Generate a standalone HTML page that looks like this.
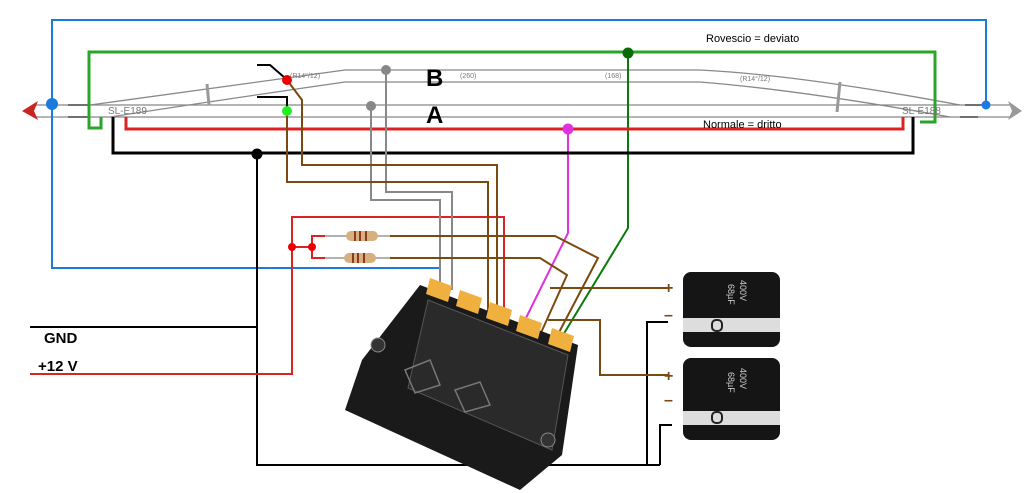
<!DOCTYPE html>
<html><head><style>
html,body{margin:0;padding:0;background:#fff;width:1026px;height:493px;overflow:hidden}
svg{display:block;font-family:"Liberation Sans",sans-serif}
</style></head><body>
<svg width="1026" height="493" viewBox="0 0 1026 493" xmlns="http://www.w3.org/2000/svg">
<g fill="none">
<g stroke="#888" stroke-width="1.3">
<line x1="35" y1="105" x2="1012" y2="105"/>
<line x1="35" y1="117" x2="1012" y2="117"/>
<path d="M90 105 Q200 90 345 70 L700 70 Q800 75 960 105"/>
<path d="M110 117 Q220 100 345 82 L700 82 Q800 90 950 117"/>
</g>
<g stroke="#999" stroke-width="3"><line x1="207" y1="84" x2="209" y2="105"/><line x1="840" y1="82" x2="837" y2="112"/></g>
<line x1="68" y1="105" x2="90" y2="105" stroke="#000"/><line x1="68" y1="117" x2="90" y2="117" stroke="#000"/>
<line x1="965" y1="105" x2="985" y2="105" stroke="#000"/><line x1="960" y1="117" x2="978" y2="117" stroke="#000"/>
<path d="M52 104 V20 H986 V105" stroke="#1a7ae0" stroke-width="2"/>
<path d="M52 104 V268 H440 V283" stroke="#1a7ae0" stroke-width="2"/>
<path d="M628 52 H935 V122 H920" stroke="#2aa52a" stroke-width="3"/>
<path d="M628 52 H89 V128 H101 V117" stroke="#2aa52a" stroke-width="3"/>
<path d="M628 52 V228 L560 340" stroke="#0a7a0a" stroke-width="2"/>
<path d="M126 117 V129 H903 V117" stroke="#d22" stroke-width="3"/>
<path d="M568 129 V233 L525 320" stroke="#e030e0" stroke-width="2"/>
<path d="M113 117 V153 H913 V117" stroke="#000" stroke-width="3"/>
<path d="M257 153 V465 H660 M257 65 H270 L285 78 M257 97 H287 V110" stroke="#000" stroke-width="2"/>
<path d="M30 327 H257" stroke="#000" stroke-width="2"/>
<path d="M647 465 V322 H668 M660 465 V425 H672" stroke="#000" stroke-width="2"/>
<path d="M30 374 H292 V217 H504 V315" stroke="#d22" stroke-width="2"/>
<path d="M292 247 H312 V236 H325 M312 247 V258 H325" stroke="#d22" stroke-width="2"/>
<path d="M386 70 V192 H452 V290" stroke="#888" stroke-width="2"/>
<path d="M371 105 V200 H440 V290" stroke="#888" stroke-width="2"/>
<g stroke="#7a4a10" stroke-width="2">
<path d="M287 80 L302 100 V165 H497 V312"/>
<path d="M287 110 V182 H488 V312"/>
<path d="M390 236 H555 L598 258 L555 340"/>
<path d="M390 258 H540 L567 275 L540 335"/>
<path d="M550 288 H668"/>
<path d="M548 320 H600 V375 H668"/>
</g>
<g stroke="#999" stroke-width="1.5"><line x1="325" y1="236" x2="390" y2="236"/><line x1="325" y1="258" x2="390" y2="258"/></g>
</g>
<rect x="346" y="231" width="32" height="10" rx="5" fill="#d8b080"/>
<rect x="344" y="253" width="32" height="10" rx="5" fill="#d8b080"/>
<g stroke="#8a3a20" stroke-width="2"><line x1="355" y1="231" x2="355" y2="241"/><line x1="360" y1="231" x2="360" y2="241"/><line x1="366" y1="231" x2="366" y2="241"/><line x1="353" y1="253" x2="353" y2="263"/><line x1="358" y1="253" x2="358" y2="263"/><line x1="364" y1="253" x2="364" y2="263"/></g>
<circle cx="52" cy="104" r="6" fill="#1a7ae0"/>
<circle cx="986" cy="105" r="4.5" fill="#1a7ae0"/>
<circle cx="628" cy="53" r="5.5" fill="#0a6a0a"/>
<circle cx="568" cy="129" r="5.5" fill="#e030e0"/>
<circle cx="257" cy="154" r="5.5" fill="#000"/>
<circle cx="287" cy="80" r="5" fill="#e00"/>
<circle cx="287" cy="111" r="5" fill="#2e2"/>
<circle cx="386" cy="70" r="5" fill="#888"/>
<circle cx="371" cy="106" r="5" fill="#888"/>
<circle cx="292" cy="247" r="4" fill="#e00"/>
<circle cx="312" cy="247" r="4" fill="#e00"/>
<polygon points="22,111 38,101 34,111 38,120" fill="#c22"/>
<polygon points="1022,111 1008,101 1012,111 1008,120" fill="#999"/>
<polygon points="420,285 578,345 562,455 520,490 345,410 362,360" fill="#1a1a1a"/>
<polygon points="428,300 568,355 552,450 408,388" fill="#2a2a2a" stroke="#555"/>
<circle cx="378" cy="345" r="7" fill="#333" stroke="#888"/><circle cx="548" cy="440" r="7" fill="#333" stroke="#888"/>
<g stroke="#777" stroke-width="1.5" fill="none"><polygon points="405,370 430,360 440,385 415,393"/><polygon points="455,390 480,382 490,405 465,412"/></g>
<g fill="#f0b040">
<polygon points="430,278 452,286 448,302 426,294"/>
<polygon points="460,290 482,298 478,314 456,306"/>
<polygon points="490,302 512,310 508,326 486,318"/>
<polygon points="520,315 542,323 538,339 516,331"/>
<polygon points="552,328 574,336 570,352 548,344"/>
</g>
<rect x="683" y="272" width="97" height="75" rx="8" fill="#151515"/>
<rect x="683" y="318" width="97" height="14" fill="#ddd"/>
<rect x="712" y="320" width="10" height="11" rx="4" fill="none" stroke="#222" stroke-width="2"/>
<rect x="683" y="358" width="97" height="82" rx="8" fill="#151515"/>
<rect x="683" y="411" width="97" height="14" fill="#ddd"/>
<rect x="712" y="412" width="10" height="11" rx="4" fill="none" stroke="#222" stroke-width="2"/>
<g font-size="16" font-weight="bold" fill="#7a4a10"><text x="664" y="293">+</text><text x="664" y="381">+</text><text x="664" y="320">–</text><text x="664" y="405">–</text></g>
<g font-size="9" fill="#ccc"><text transform="translate(740,280) rotate(90)">400V</text><text transform="translate(728,284) rotate(90)">68µF</text><text transform="translate(740,368) rotate(90)">400V</text><text transform="translate(728,372) rotate(90)">68µF</text></g>
<text x="426" y="86" font-size="24" font-weight="bold">B</text>
<text x="426" y="123" font-size="24" font-weight="bold">A</text>
<text x="706" y="42" font-size="11">Rovescio = deviato</text>
<text x="703" y="128" font-size="11">Normale = dritto</text>
<text x="108" y="114" font-size="10" fill="#777">SL-E189</text>
<text x="902" y="114" font-size="10" fill="#777">SL-E188</text>
<g font-size="7" fill="#777"><text x="460" y="78">(260)</text><text x="605" y="78">(168)</text><text x="740" y="81">(R14°/12)</text><text x="290" y="78">(R14°/12)</text></g>
<text x="44" y="343" font-size="15" font-weight="bold">GND</text>
<text x="38" y="371" font-size="15" font-weight="bold">+12 V</text>
</svg>
</body></html>
